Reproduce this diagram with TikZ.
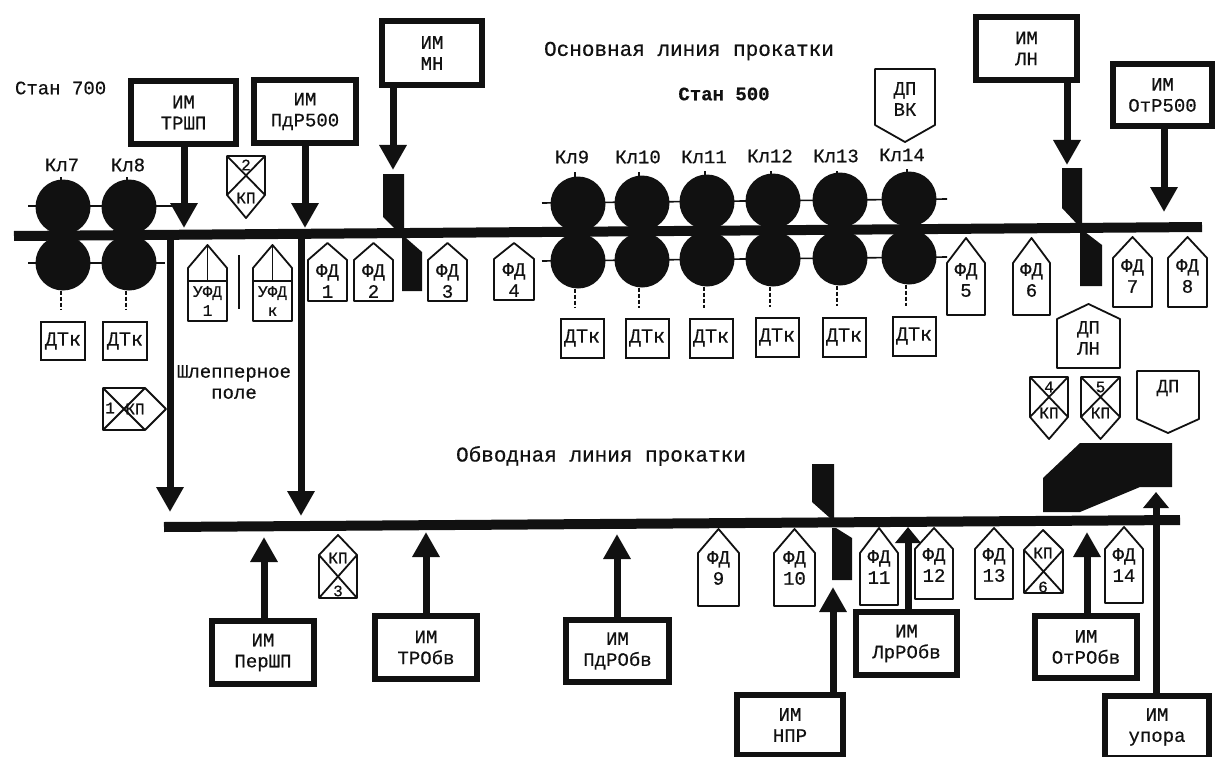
\documentclass[tikz,border=0pt]{standalone}
\usepackage{fontspec}
\setmainfont[FakeBold=0.5]{Liberation Mono}
\usetikzlibrary{arrows.meta}
\definecolor{ink}{HTML}{111111}
\tikzset{
  lbl/.style={inner sep=0pt,outer sep=0pt,align=center,text=ink,font=\fontsize{19}{21}\selectfont},
  small/.style={lbl,font=\fontsize{16}{19}\selectfont},
  head/.style={lbl,font=\fontsize{21}{24}\selectfont},
  imbox/.style={draw=ink,line width=6pt,fill=white,inner sep=0pt,outer sep=3pt,align=center,text=ink,font=\fontsize{19}{21}\selectfont},
  thinbox/.style={draw=ink,line width=2pt,fill=white,inner sep=0pt,align=center,text=ink,font=\fontsize{20}{22}\selectfont},
  rollc/.style={circle,fill=ink,minimum size=55pt,inner sep=0pt,outer sep=0pt},
  sline/.style={draw=ink,line width=1.8pt,fill=white,line join=round},
  axisl/.style={draw=ink,line width=1.6pt},
  dashl/.style={draw=ink,line width=1.8pt,dash pattern=on 4pt off 2pt},
  rail/.style={draw=ink,line width=10pt},
  flow/.style={draw=ink,line width=7pt,-{Triangle[length=25pt,width=26pt,fill=ink]}},
  flowshort/.style={draw=ink,line width=7pt,-{Triangle[length=16pt,width=25pt,fill=ink]}},
  knife/.style={fill=ink},
}
% name, left, right, apex y, shoulder y, bottom y, text y, text
\newcommand\upHouse[8]{%
  \draw[sline] (#2,#5) -- ({(#2+#3)/2},#4) -- (#3,#5) -- (#3,#6) -- (#2,#6) -- cycle;
  \node[lbl] (#1) at ({(#2+#3)/2},#7) {#8};}
% name, left, right, top y, shoulder y, tip y, number, text y of number, text y of KP
\newcommand\downKP[9]{%
  \draw[sline] (#2,#4) -- (#3,#4) -- (#3,#5) -- ({(#2+#3)/2},#6) -- (#2,#5) -- cycle;
  \draw[sline] (#2,#4) -- (#3,#5) (#3,#4) -- (#2,#5);
  \node[small] (#1n) at ({(#2+#3)/2},#8) {#7};
  \node[small] (#1k) at ({(#2+#3)/2},#9) {КП};}
% name, left, right, apex, shoulder, bottom, rule y
\newcommand\ufd[8]{%
  \draw[sline] (#2,#5) -- ({(#2+#3)/2},#4) -- (#3,#5) -- (#3,#6) -- (#2,#6) -- cycle;
  \draw[sline] ({(#2+#3)/2},#4) -- ({(#2+#3)/2},#7) (#2,#7) -- (#3,#7);
  \node[small] (#1) at ({(#2+#3)/2},{(#7+#6)/2}) {УФД\\#8};}
\begin{document}
\begin{tikzpicture}[x=1pt,y=-1pt]
\useasboundingbox (0,0) rectangle (1215,757);
\fill[white] (0,0) rectangle (1215,757);

% rails
\coordinate (mainL) at (14,236);
\coordinate (mainR) at (1202,227);
\coordinate (byL) at (164,527);
\coordinate (byR) at (1180,520);

% roll axes
\coordinate (a7t) at (28,206); \coordinate (b7t) at (172,206);
\coordinate (a7b) at (28,263); \coordinate (b7b) at (165,263);
\coordinate (a5t) at (542,203); \coordinate (b5t) at (947,199);
\coordinate (a5b) at (542,261); \coordinate (b5b) at (947,257);
\draw[axisl] (a7t) -- (b7t);
\draw[axisl] (a7b) -- (b7b);
\draw[axisl] (a5t) -- (b5t);
\draw[axisl] (a5b) -- (b5b);

\draw[rail] (mainL) -- (mainR);
\draw[rail] (byL) -- (byR);

% rolls
\node[rollc] (r7t) at (63,207) {};
\node[rollc] (r7b) at (63,263) {};
\node[rollc] (r8t) at (129,207) {};
\node[rollc] (r8b) at (129,263) {};
\node[rollc] (r9t) at (578,204) {};
\node[rollc] (r9b) at (578,261) {};
\node[rollc] (r10t) at (642,203) {};
\node[rollc] (r10b) at (642,260) {};
\node[rollc] (r11t) at (707,202) {};
\node[rollc] (r11b) at (707,259) {};
\node[rollc] (r12t) at (773,201) {};
\node[rollc] (r12b) at (773,259) {};
\node[rollc] (r13t) at (840,200) {};
\node[rollc] (r13b) at (840,258) {};
\node[rollc] (r14t) at (909,199) {};
\node[rollc] (r14b) at (909,257) {};

% roll labels
\node[lbl] (k7) at (62,165) {Кл7};
\node[lbl] (k8) at (128,165) {Кл8};
\node[lbl] (k9) at (572,157) {Кл9};
\node[lbl] (k10) at (638,157) {Кл10};
\node[lbl] (k11) at (704,157) {Кл11};
\node[lbl] (k12) at (770,156) {Кл12};
\node[lbl] (k13) at (836,156) {Кл13};
\node[lbl] (k14) at (902,155) {Кл14};

% tachometers
\node[thinbox,minimum width=44pt,minimum height=38pt] (d7) at (63,341) {ДТк};
\node[thinbox,minimum width=44pt,minimum height=38pt] (d8) at (125,341) {ДТк};
\node[thinbox,minimum width=43pt,minimum height=39pt] (d9) at (582,338) {ДТк};
\node[thinbox,minimum width=43pt,minimum height=39pt] (d10) at (647,338) {ДТк};
\node[thinbox,minimum width=43pt,minimum height=39pt] (d11) at (711,338) {ДТк};
\node[thinbox,minimum width=43pt,minimum height=39pt] (d12) at (777,337) {ДТк};
\node[thinbox,minimum width=43pt,minimum height=39pt] (d13) at (844,337) {ДТк};
\node[thinbox,minimum width=43pt,minimum height=39pt] (d14) at (914,336) {ДТк};
\foreach \r/\x/\y in {r7b/61/310,r8b/126/310,r9b/575/308,r10b/639/308,r11b/704/308,r12b/770/307,r13b/837/306,r14b/906/306}{
  \coordinate (\r e) at (\x,\y);
  \draw[dashl] (\r.south -| \r e) -- (\r e);
}
\foreach \r/\x/\y in {r7t/61/177,r8t/127/177,r9t/575/172,r10t/639/172,r11t/705/171,r12t/771/171,r13t/837/171,r14t/907/169}{
  \coordinate (\r e) at (\x,\y);
  \draw[axisl] (\r.north -| \r e) -- (\r e);
}

% knives
\fill[knife] (383,174) -- (404,174) -- (404,232) -- (398,232) -- (383,217) -- cycle;
\fill[knife] (402,238) -- (406,238) -- (422,252) -- (422,291) -- (402,291) -- cycle;
\fill[knife] (1062,168) -- (1082,168) -- (1082,225) -- (1078,225) -- (1062,208) -- cycle;
\fill[knife] (1080,232) -- (1085,232) -- (1102,245) -- (1102,286) -- (1080,286) -- cycle;
\fill[knife] (812,464) -- (834,464) -- (834,518) -- (830,518) -- (812,502) -- cycle;
\fill[knife] (832,528) -- (836,528) -- (852,538) -- (852,580) -- (832,580) -- cycle;
\fill[knife] (1043,478) -- (1080,443) -- (1172,443) -- (1172,487) -- (1140,487) -- (1080,512) -- (1043,512) -- cycle;

% actuator boxes
\node[imbox,minimum width=105pt,minimum height=63pt] (trsh) at (183.5,112.5) {ИМ\\ТРШП};
\node[imbox,minimum width=102pt,minimum height=63pt] (pdr) at (305,111.5) {ИМ\\ПдР500};
\node[imbox,minimum width=100pt,minimum height=64pt] (mn) at (432,53) {ИМ\\МН};
\node[imbox,minimum width=101pt,minimum height=63pt] (ln) at (1026.5,48.5) {ИМ\\ЛН};
\node[imbox,minimum width=99pt,minimum height=62pt] (otr) at (1162.5,95) {ИМ\\ОтР500};
\node[imbox,minimum width=102pt,minimum height=63pt] (persh) at (263,652.5) {ИМ\\ПерШП};
\node[imbox,minimum width=102pt,minimum height=63pt] (trobv) at (426,647.5) {ИМ\\ТРОбв};
\node[imbox,minimum width=103pt,minimum height=62pt] (pdrobv) at (617.5,651) {ИМ\\ПдРОбв};
\node[imbox,minimum width=106pt,minimum height=60pt] (npr) at (790,725) {ИМ\\НПР};
\node[imbox,minimum width=101pt,minimum height=63pt] (lrobv) at (906.5,643.5) {ИМ\\ЛрРОбв};
\node[imbox,minimum width=102pt,minimum height=62pt] (otrobv) at (1086,647) {ИМ\\ОтРОбв};
\node[imbox,minimum width=104pt,minimum height=62pt] (upor) at (1157,727) {ИМ\\упора};

% connectors
\coordinate (t1) at (184,228);
\coordinate (t2) at (305,228);
\coordinate (t3) at (393,170);
\coordinate (t4) at (1067,165);
\coordinate (t5) at (1164,212);
\coordinate (t6) at (264,537);
\coordinate (t7) at (426,532);
\coordinate (t8) at (617,534);
\coordinate (t9) at (833,587);
\coordinate (t10) at (908,527);
\coordinate (t11) at (1087,532);
\coordinate (t12) at (1156,492);
\draw[flow] (trsh.south -| t1) -- (t1);
\draw[flow] (pdr.south -| t2) -- (t2);
\draw[flow] (mn.south -| t3) -- (t3);
\draw[flow] (ln.south -| t4) -- (t4);
\draw[flow] (otr.south -| t5) -- (t5);
\draw[flow] (persh.north -| t6) -- (t6);
\draw[flow] (trobv.north -| t7) -- (t7);
\draw[flow] (pdrobv.north -| t8) -- (t8);
\draw[flow] (npr.north -| t9) -- (t9);
\draw[flow] (otrobv.north -| t11) -- (t11);
\draw[flowshort] (upor.north -| t12) -- (t12);
\coordinate (s1) at (170,235); \coordinate (e1) at (170,512);
\coordinate (s2) at (301,234); \coordinate (e2) at (301,516);
\draw[flow] (s1) -- (e1);
\draw[flow] (s2) -- (e2);

% sensors, main line
\ufd{u1}{188}{227}{245}{268}{321}{281}{1}
\ufd{uk}{253}{292}{245}{268}{321}{281}{к}
\coordinate (sepA) at (239,255); \coordinate (sepB) at (239,309);
\draw[axisl] (sepA) -- (sepB);
\upHouse{f1}{308}{347}{243}{260}{301}{281}{ФД\\1}
\upHouse{f2}{354}{393}{243}{260}{301}{281}{ФД\\2}
\upHouse{f3}{428}{467}{243}{260}{301}{281}{ФД\\3}
\upHouse{f4}{494}{534}{243}{259}{300}{280}{ФД\\4}
\upHouse{f5}{947}{985}{238}{263}{315}{280}{ФД\\5}
\upHouse{f6}{1013}{1050}{238}{263}{315}{280}{ФД\\6}
\upHouse{f7}{1113}{1152}{237}{258}{307}{276}{ФД\\7}
\upHouse{f8}{1168}{1207}{237}{258}{307}{276}{ФД\\8}
% sensors, bypass line
\upHouse{f9}{698}{739}{529}{553}{606}{568}{ФД\\9}
\upHouse{f10}{774}{815}{529}{553}{606}{568}{ФД\\10}
\upHouse{f11}{860}{898}{528}{553}{605}{567}{ФД\\11}
\upHouse{f12}{915}{953}{528}{549}{599}{565}{ФД\\12}
\upHouse{f13}{975}{1013}{528}{549}{599}{565}{ФД\\13}
\upHouse{f14}{1105}{1143}{527}{549}{603}{565}{ФД\\14}
\draw[flowshort] (lrobv.north -| t10) -- (t10);

% position sensors
\upHouse{dpln}{1057}{1120}{304}{319}{368}{338}{ДП\\ЛН}
\draw[sline] (875,69) -- (935,69) -- (935,125) -- (905,142) -- (875,125) -- cycle;
\node[lbl] (dpvk) at (905,99) {ДП\\ВК};
\draw[sline] (1137,371) -- (1199,371) -- (1199,419) -- (1168,433) -- (1137,419) -- cycle;
\node[lbl] (dpr) at (1168,388) {ДП};

% KP markers
\downKP{kp2}{227}{265}{156}{195}{218}{2}{165}{198}
\downKP{kp4}{1030}{1068}{377}{417}{439}{4}{387}{413}
\downKP{kp5}{1081}{1120}{377}{417}{439}{5}{387}{413}
% KP 1 (pointing right)
\draw[sline] (103,388) -- (145,388) -- (166,409) -- (145,430) -- (103,430) -- cycle;
\draw[sline] (103,430) -- (145,388) (103,388) -- (145,430);
\node[small] (kp1n) at (110,408) {1};
\node[small] (kp1k) at (135,409) {КП};
% KP 3 and 6 (pointing up)
\draw[sline] (319,555) -- (338,535) -- (357,555) -- (357,598) -- (319,598) -- cycle;
\draw[sline] (319,555) -- (357,598) (357,555) -- (319,598);
\node[small] (kp3k) at (338,558) {КП};
\node[small] (kp3n) at (338,591) {3};
\draw[sline] (1024,550) -- (1043,530) -- (1063,550) -- (1063,593) -- (1024,593) -- cycle;
\draw[sline] (1024,593) -- (1063,550) (1024,550) -- (1063,593);
\node[small] (kp6k) at (1043,553) {КП};
\node[small] (kp6n) at (1043,587) {6};

% headings
\node[head] (main) at (689,51) {Основная линия прокатки};
\node[head] (byp) at (601,456) {Обводная линия прокатки};
\node[lbl,font=\fontsize{19}{21}\selectfont\bfseries] (st5) at (724,94) {Стан 500};
\node[lbl,anchor=west] (st7) at (15,88) {Стан 700};
\node[lbl] (shl) at (234,382) {Шлепперное\\поле};
\end{tikzpicture}
\end{document}
